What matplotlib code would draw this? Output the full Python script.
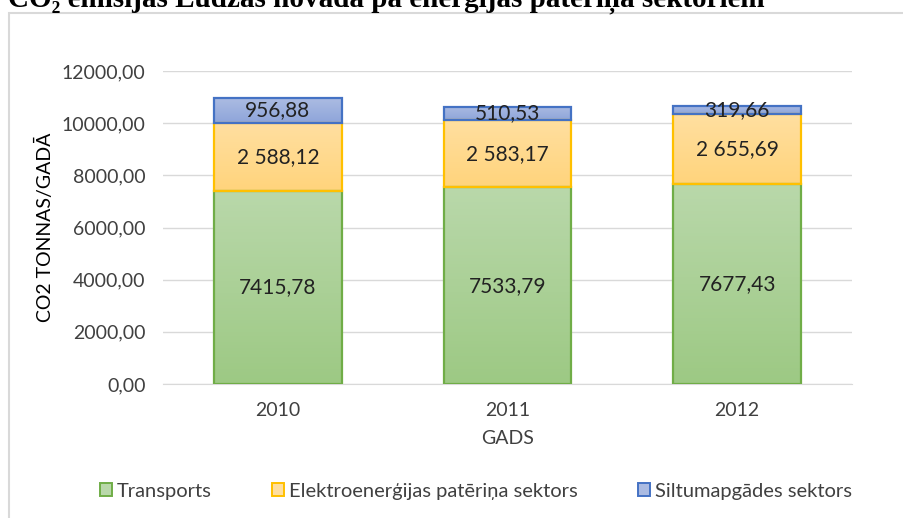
import numpy as np
import matplotlib
matplotlib.use("Agg")
import matplotlib.pyplot as plt
from matplotlib.patches import Patch, Rectangle
from matplotlib.colors import LinearSegmentedColormap

years = ["2010", "2011", "2012"]
transport = [7415.78, 7533.79, 7677.43]
elektro = [2588.12, 2583.17, 2655.69]
siltum = [956.88, 510.53, 319.66]
series_names = ["Transports", "Elektroenerģijas patēriņa sektors", "Siltumapgādes sektors"]

# (top colour, bottom colour, edge colour)
styles = [
    ("#b9d8aa", "#9dc984", "#70ad47"),
    ("#ffdfa0", "#ffd47c", "#ffc000"),
    ("#abbbe2", "#8ea5da", "#4472c4"),
]


def fmt_plain(v):
    return f"{v:.2f}".replace(".", ",")


def fmt_space(v):
    s = f"{v:,.2f}"
    return s.replace(",", " ").replace(".", ",")


plt.rcParams['font.family'] = ['Lato', 'DejaVu Sans']

fig = plt.figure(figsize=(9.04, 5.18), dpi=100)

# chart frame (runs off the right and bottom edges like the source)
fig.patches.append(Rectangle((9 / 904, -0.1), 1.0, 1.1 - 13 / 518,
                             transform=fig.transFigure, fill=False,
                             edgecolor="#d9d9d9", lw=1.5))

# title, cut at the top in the source image
fig.text(8 / 904, 1 - 7 / 518, "CO₂ emisijas Ludzas novadā pa enerģijas patēriņa sektoriem",
         family=['Liberation Serif', 'DejaVu Serif'], weight='bold', fontsize=21,
         ha='left', va='baseline', color="#000000")

ax = fig.add_axes([163 / 904, 1 - 384 / 518, 689 / 904, 313 / 518])
x = np.arange(len(years))
width = 0.556

stack = [transport, elektro, siltum]
formats = [fmt_plain, fmt_space, fmt_plain]
bottom = np.zeros(len(years))
for vals, (ctop, cbot, cedge), name, fmt in zip(stack, styles, series_names, formats):
    vals = np.array(vals)
    bars = ax.bar(x, vals, width, bottom=bottom, facecolor='none',
                  edgecolor=cedge, linewidth=1.6, zorder=3, label=name)
    cmap = LinearSegmentedColormap.from_list("g", [cbot, ctop])
    grad = np.linspace(0, 1, 64).reshape(-1, 1)
    for b in bars:
        x0, y0 = b.get_x(), b.get_y()
        ax.imshow(grad, cmap=cmap, origin='lower', aspect='auto', zorder=2,
                  extent=[x0, x0 + b.get_width(), y0, y0 + b.get_height()])
    for xi, v, b0 in zip(x, vals, bottom):
        ax.text(xi, b0 + v / 2, fmt(v), ha='center', va='center',
                fontsize=15, color="#222222", zorder=4)
    bottom = bottom + vals

ax.set_xlim(-0.5, 2.5)
ax.set_ylim(0, 12000)
ax.set_yticks(np.arange(0, 12001, 2000))
ax.set_yticklabels([f"{v:.2f}".replace(".", ",") for v in np.arange(0, 12001, 2000)])
ax.set_xticks(x)
ax.set_xticklabels(years)
ax.tick_params(axis='both', length=0, labelsize=14, colors="#404040")
ax.tick_params(axis='y', pad=12.5)
ax.tick_params(axis='x', pad=13)
ax.grid(axis='y', color="#d9d9d9", lw=1, zorder=0)
ax.set_axisbelow(True)
for s in ["top", "right", "left"]:
    ax.spines[s].set_visible(False)
ax.spines["bottom"].set_color("#d9d9d9")

ax.set_xlabel("GADS", fontsize=14, color="#404040", labelpad=8)
ax.set_ylabel("CO2 TONNAS/GADĀ", fontsize=14, color="#000000")
ax.yaxis.set_label_coords(-(163 - 54) / 689, 0.5)

handles = [Patch(facecolor=c[0], edgecolor=c[2], lw=1.4) for c in styles]
fig.legend(handles, series_names, loc='center', bbox_to_anchor=(476 / 904, 1 - 491 / 518),
           ncol=3, frameon=False, fontsize=14.5, handlelength=0.6, handleheight=0.6,
           handletextpad=0.25, columnspacing=3.0, labelcolor="#404040")

fig.savefig("out.png", dpi=100)
